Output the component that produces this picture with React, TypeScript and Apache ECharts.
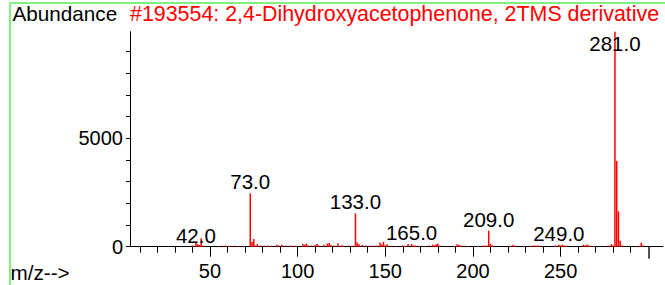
import React, { useEffect, useRef } from "react";
import * as echarts from "echarts";

const mzValues = [
  40, 42, 43, 44, 45, 46, 55, 57, 59, 61, 63, 66, 69, 73, 74, 75, 76, 77, 79, 81, 83, 85, 88, 89, 91, 93, 96, 97, 99,
  103, 104, 105, 106, 108, 110, 111, 112, 115, 117, 118, 119, 121, 123, 125, 126, 129, 131, 133, 134, 135, 137, 139,
  141, 143, 145, 147, 148, 149, 150, 151, 153, 156, 160, 161, 163, 165, 166, 167, 169, 172, 175, 177, 178, 179, 180,
  181, 185, 189, 191, 192, 193, 195, 197, 203, 206, 207, 208, 209, 210, 211, 221, 223, 224, 229, 233, 235, 236, 237,
  238, 247, 249, 250, 251, 252, 253, 263, 264, 265, 266, 267, 269, 277, 279, 280, 281, 282, 283, 284, 285, 293, 295,
  296, 297,
];
const abundances = [
  60, 230, 120, 80, 390, 60, 30, 40, 50, 30, 40, 30, 40, 2460, 230, 360, 60, 120, 40, 50, 60, 40, 90, 60, 90, 50, 50, 40, 40,
  130, 90, 140, 60, 60, 80, 120, 60, 90, 150, 170, 80, 60, 160, 60, 40, 50, 40, 1540, 190, 110, 80, 50,
  40, 40, 50, 190, 100, 230, 60, 110, 40, 30, 60, 40, 120, 130, 60, 50, 40, 30, 50, 90, 60, 110, 140,
  50, 30, 40, 110, 80, 50, 40, 30, 30, 50, 60, 40, 740, 130, 70, 40, 90, 40, 30, 40, 60, 40, 60,
  40, 60, 90, 60, 90, 50, 40, 90, 60, 100, 60, 40, 30, 50, 120, 60, 9920, 3960, 1630, 270, 60, 30, 40,
  185, 70,
];
const labeledPeaks = [42, 73, 133, 165, 209, 249, 281];
const xTickValues = [10, 20, 30, 40, 50, 60, 70, 80, 90, 100, 110, 120, 130, 140, 150, 160, 170, 180, 190, 200, 210, 220, 230, 240, 250, 260, 270, 280, 290];
const xMajorTickValues = [50, 100, 150, 200, 250];
const xEndTickValues = [300];
const xLabelValues = [50, 100, 150, 200, 250];
const yTickValues = [0, 1000, 2000, 3000, 4000, 5000, 6000, 7000, 8000, 9000];
const yLabelValues = [0, 5000];
const yMax = 9920;
const xMin = 4.4;
const xMax = 308.4;

const FONT = "'Liberation Sans', Arial, sans-serif";

export default function App() {
  const ref = useRef<HTMLDivElement>(null);
  useEffect(() => {
    document.body.style.margin = "0";
    const chart = echarts.init(ref.current!, null, { renderer: "svg" });
    const labelOffsets: Record<number, number[]> = { 42: [0, 5], 281: [0, 23] };
    const data = mzValues.map((mz, i) => {
      const item: any = { value: [mz, abundances[i]] };
      if (labeledPeaks.includes(mz)) {
        item.label = {
          show: true,
          position: "top",
          distance: 1,
          formatter: `${mz}.0`,
          offset: labelOffsets[mz] || [0, 0],
          color: "#000",
          fontSize: 20.5,
          fontFamily: FONT,
        };
      }
      return item;
    });
    const baseX = {
      type: "value",
      min: xMin,
      max: xMax,
      position: "bottom",
      splitLine: { show: false },
    };
    chart.setOption({
      animation: false,
      backgroundColor: "#fff",
      grid: { left: 130, right: 2, top: 31.7, bottom: 38.3, containLabel: false },
      xAxis: [
        {
          ...baseX,
          axisLine: { show: true, lineStyle: { color: "#000", width: 1 } },
          axisTick: { show: true, length: 6, customValues: xTickValues, lineStyle: { color: "#000" } },
          axisLabel: {
            show: true,
            customValues: xLabelValues,
            formatter: (v: number) => String(v),
            color: "#000",
            fontSize: 20,
            fontFamily: FONT,
            margin: 14,
          },
        },
        {
          ...baseX,
          axisLine: { show: false },
          axisTick: { show: true, length: 10, customValues: xMajorTickValues, lineStyle: { color: "#000" } },
          axisLabel: { show: false },
        },
        {
          ...baseX,
          axisLine: { show: false },
          axisTick: { show: true, length: 12, customValues: xEndTickValues, lineStyle: { color: "#555", width: 2 } },
          axisLabel: { show: false },
        },
      ],
      yAxis: {
        type: "value",
        min: 0,
        max: yMax,
        splitLine: { show: false },
        axisLine: { show: true, lineStyle: { color: "#000", width: 1 } },
        axisTick: { show: true, length: 4, customValues: yTickValues, lineStyle: { color: "#000" } },
        axisLabel: {
          show: true,
          customValues: yLabelValues,
          formatter: (v: number) => String(v),
          color: "#000",
          fontSize: 20,
          fontFamily: FONT,
          margin: 7,
        },
      },
      graphic: [
        {
          type: "rect",
          shape: { x: 10, y: 3, width: 1000, height: 1000 },
          style: { fill: "none", stroke: "#80f080", lineWidth: 2 },
          silent: true,
        },
        {
          type: "text",
          x: 12.5,
          y: 24,
          style: { text: "Abundance", fill: "#000", fontSize: 20.7, fontFamily: FONT, verticalAlign: "bottom" },
        },
        {
          type: "text",
          x: 130,
          y: 24,
          style: {
            text: "#193554: 2,4-Dihydroxyacetophenone, 2TMS derivative",
            fill: "#ff0000",
            fontSize: 21.4,
            fontFamily: FONT,
            verticalAlign: "bottom",
          },
        },
        {
          type: "text",
          x: 10.5,
          y: 283,
          style: { text: "m/z-->", fill: "#000", fontSize: 20.7, fontFamily: FONT, verticalAlign: "bottom" },
        },
      ],
      series: [
        {
          type: "bar",
          xAxisIndex: 0,
          yAxisIndex: 0,
          barWidth: 1.5,
          itemStyle: { color: "#ff0000" },
          data,
        },
      ],
    });
    return () => chart.dispose();
  }, []);
  return <div ref={ref} style={{ width: 665, height: 285 }} />;
}
